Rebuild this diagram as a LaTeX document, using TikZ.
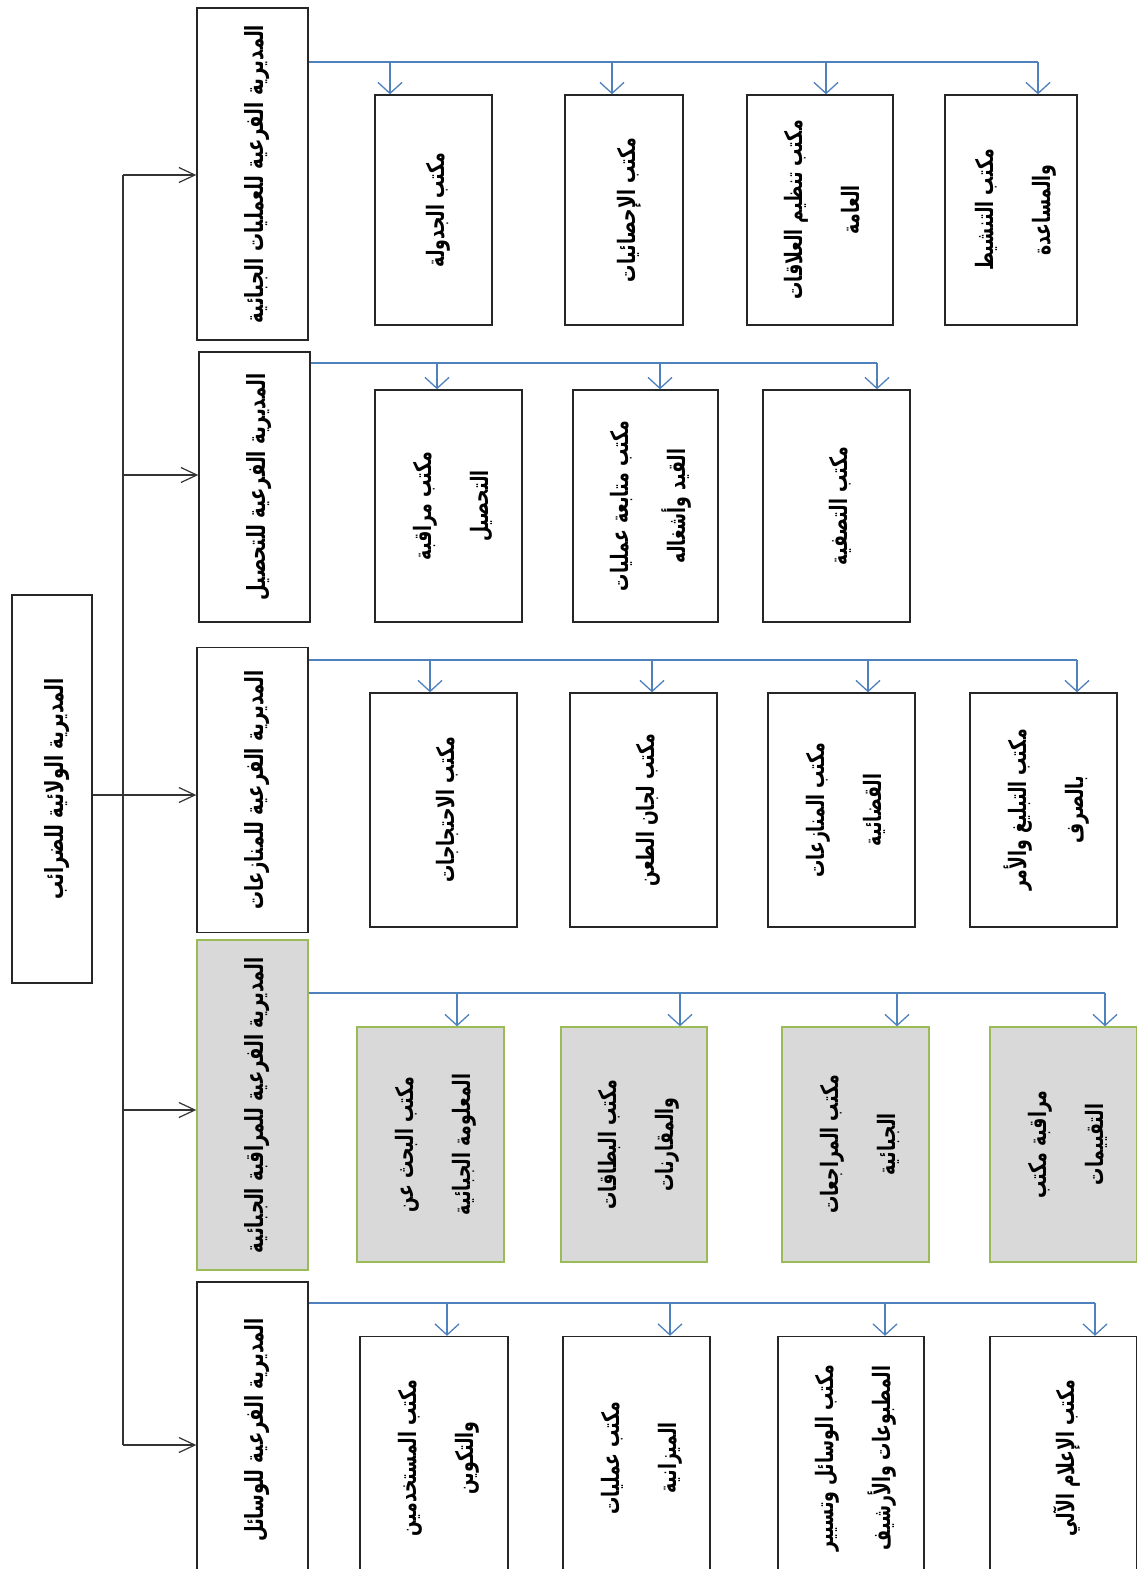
\documentclass[tikz,border=0pt]{standalone}
\usepackage{fontspec}
\usepackage{graphicx}
\usetikzlibrary{arrows.meta}
\TeXXeTstate=1
\newfontfamily\arabicfont[Script=Arabic,FakeStretch=0.72]{DejaVu Sans}
\definecolor{busblue}{RGB}{79,129,189}
\definecolor{ctrlgray}{RGB}{217,217,217}
\definecolor{ctrlgreen}{RGB}{155,187,89}
% rotated arabic lines
\newcommand{\ar}[1]{\beginR #1\endR}
\newcommand{\vtext}[1]{\rotatebox{90}{\begin{tabular}{@{}c@{}}#1\end{tabular}}}

\tikzset{
	unitbox/.style={draw=black!85, line width=1.4pt, fill=white, inner sep=0pt},
	dirbox/.style={unitbox, minimum width=111pt, font=\arabicfont\bfseries\fontsize{25}{56}\selectfont},
	offbox/.style={unitbox, font=\arabicfont\bfseries\fontsize{24}{57}\selectfont},
	ctrl/.style={fill=ctrlgray, draw=ctrlgreen},
	trunk/.style={draw=black!80, line width=1.4pt},
	karrow/.style={trunk, -{Straight Barb[length=16pt,width=15pt,line width=1.2pt]}},
	bline/.style={draw=busblue, line width=1.3pt},
	barrow/.style={bline, -{Straight Barb[length=11pt,width=24pt,line width=1.3pt]}}
}

\begin{document}
\begin{tikzpicture}[x=1pt, y=-1pt]

	\path[use as bounding box, clip] (0,0) rectangle (1137,1569);

	\node[unitbox, minimum width=80pt, minimum height=388pt, font=\arabicfont\bfseries\fontsize{25}{56}\selectfont]
		(root) at (52,789) {\vtext{\ar{المديرية الولائية للضرائب}}};

	% sub-directorates
	\node[dirbox, minimum height=332pt] (d1) at (252.5,174) {\vtext{\ar{المديرية الفرعية للعمليات الجبائية}}};
	\node[dirbox, minimum height=270pt] (d2) at (254.5,487) {\vtext{\ar{المديرية الفرعية للتحصيل}}};
	\node[dirbox, minimum height=285pt] (d3) at (252.5,790) {\vtext{\ar{المديرية الفرعية للمنازعات}}};
	\node[dirbox, ctrl, minimum height=330pt] (d4) at (252.5,1105) {\vtext{\ar{المديرية الفرعية للمراقبة الجبائية}}};
	\node[dirbox, minimum height=296pt] (d5) at (252.5,1430) {\vtext{\ar{المديرية الفرعية للوسائل}}};

	% offices
	\node[offbox, minimum width=117pt, minimum height=230pt] (b11) at (433.5,210) {\vtext{\ar{مكتب الجدولة}}};
	\node[offbox, minimum width=118pt, minimum height=230pt] (b12) at (624,210) {\vtext{\ar{مكتب الإحصائيات}}};
	\node[offbox, minimum width=146pt, minimum height=230pt] (b13) at (820,210) {\vtext{\ar{مكتب تنظيم العلاقات}\\\ar{العامة}}};
	\node[offbox, minimum width=132pt, minimum height=230pt] (b14) at (1011,210) {\vtext{\ar{مكتب التنشيط}\\\ar{والمساعدة}}};

	\node[offbox, minimum width=147pt, minimum height=232pt] (b21) at (448.5,506) {\vtext{\ar{مكتب مراقبة}\\\ar{التحصيل}}};
	\node[offbox, minimum width=145pt, minimum height=232pt] (b22) at (645.5,506) {\vtext{\ar{مكتب متابعة عمليات}\\\ar{القيد وأشغاله}}};
	\node[offbox, minimum width=147pt, minimum height=232pt] (b23) at (836.5,506) {\vtext{\ar{مكتب التصفية}}};

	\node[offbox, minimum width=147pt, minimum height=234pt] (b31) at (443.5,810) {\vtext{\ar{مكتب الاحتجاجات}}};
	\node[offbox, minimum width=147pt, minimum height=234pt] (b32) at (643.5,810) {\vtext{\ar{مكتب لجان الطعن}}};
	\node[offbox, minimum width=147pt, minimum height=234pt] (b33) at (841.5,810) {\vtext{\ar{مكتب المنازعات}\\\ar{القضائية}}};
	\node[offbox, minimum width=147pt, minimum height=234pt] (b34) at (1043.5,810) {\vtext{\ar{مكتب التبليغ والأمر}\\\ar{بالصرف}}};

	\node[offbox, ctrl, minimum width=147pt, minimum height=235pt] (b41) at (430.5,1144.5) {\vtext{\ar{مكتب البحث عن}\\\ar{المعلومة الجبائية}}};
	\node[offbox, ctrl, minimum width=146pt, minimum height=235pt] (b42) at (634,1144.5) {\vtext{\ar{مكتب البطاقات}\\\ar{والمقارنات}}};
	\node[offbox, ctrl, minimum width=147pt, minimum height=235pt] (b43) at (855.5,1144.5) {\vtext{\ar{مكتب المراجعات}\\\ar{الجبائية}}};
	\node[offbox, ctrl, minimum width=147pt, minimum height=235pt] (b44) at (1063.5,1144.5) {\vtext{\ar{مراقبة مكتب}\\\ar{التقييمات}}};

	\node[offbox, minimum width=148pt, minimum height=243pt] (b51) at (434,1458) {\vtext{\ar{مكتب المستخدمين}\\\ar{والتكوين}}};
	\node[offbox, minimum width=147pt, minimum height=243pt] (b52) at (636.5,1458) {\vtext{\ar{مكتب عمليات}\\\ar{الميزانية}}};
	\node[offbox, minimum width=146pt, minimum height=243pt] (b53) at (851,1458) {\vtext{\ar{مكتب الوسائل وتسيير}\\\ar{المطبوعات والأرشيف}}};
	\node[offbox, minimum width=147pt, minimum height=243pt] (b54) at (1063.5,1458) {\vtext{\ar{مكتب الإعلام الآلي}}};

	% trunk from the head office
	\coordinate (k1) at (123,175);
	\coordinate (k5) at (123,1445);
	\draw[trunk] (k1) -- (k5);
	\foreach \ky/\dir in {175/d1, 475/d2, 1110/d4, 1445/d5}
		\draw[karrow] (123,\ky) -- (123,\ky -| \dir.west);
	\draw[karrow] (root.east |- 0,795) -- (d3.west |- 0,795);

	% blue buses
	\draw[bline] (d1.east |- 0,62) -- (1038,62);
	\foreach \tx/\off in {390/b11, 612/b12, 826/b13, 1038/b14}
		\draw[barrow] (\tx,62) -- (\tx,62 |- \off.north);

	\draw[bline] (d2.east |- 0,363) -- (877,363);
	\foreach \tx/\off in {437/b21, 660/b22, 877/b23}
		\draw[barrow] (\tx,363) -- (\tx,363 |- \off.north);

	\draw[bline] (d3.east |- 0,660) -- (1077,660);
	\foreach \tx/\off in {430/b31, 652/b32, 868/b33, 1077/b34}
		\draw[barrow] (\tx,660) -- (\tx,660 |- \off.north);

	\draw[bline] (d4.east |- 0,993) -- (1105,993);
	\foreach \tx/\off in {457/b41, 680/b42, 897/b43, 1105/b44}
		\draw[barrow] (\tx,993) -- (\tx,993 |- \off.north);

	\draw[bline] (d5.east |- 0,1303) -- (1095,1303);
	\foreach \tx/\off in {447/b51, 670/b52, 885/b53, 1095/b54}
		\draw[barrow] (\tx,1303) -- (\tx,1303 |- \off.north);

\end{tikzpicture}
\end{document}
